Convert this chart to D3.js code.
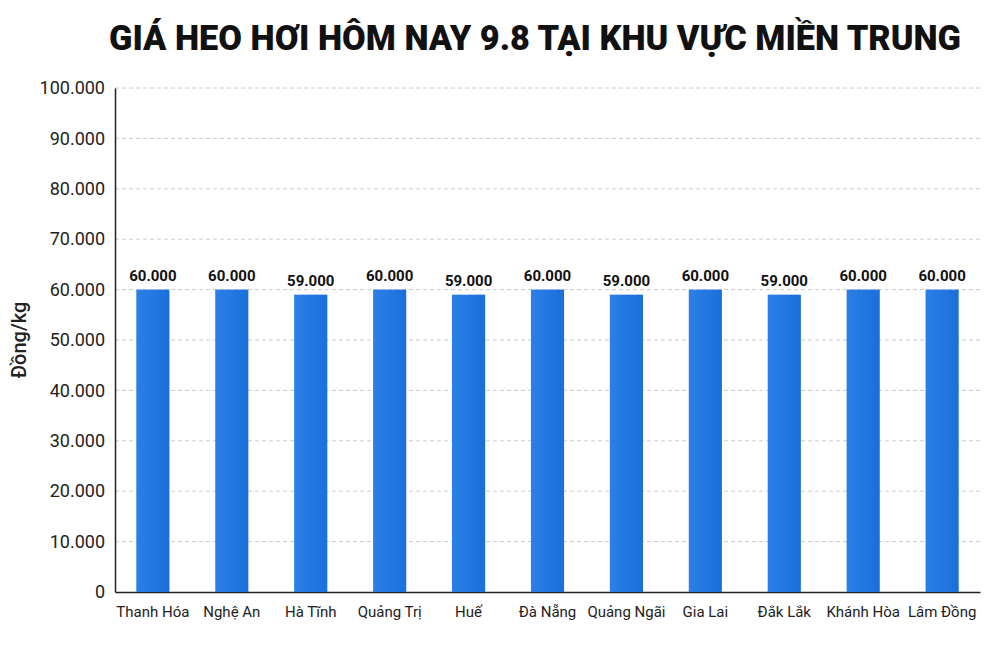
<!DOCTYPE html><html><head><meta charset="utf-8">
<script src="https://cdn.jsdelivr.net/npm/d3@7"></script>
<style>body{margin:0;background:#fff}</style></head><body>
<svg id="c" width="998" height="665"></svg>
<script>
const categories=["Thanh Hóa","Nghệ An","Hà Tĩnh","Quảng Trị","Huế","Đà Nẵng","Quảng Ngãi","Gia Lai","Đắk Lắk","Khánh Hòa","Lâm Đồng"];
const values=[60000,60000,59000,60000,59000,60000,59000,60000,59000,60000,60000];
const yTicks=[0,10000,20000,30000,40000,50000,60000,70000,80000,90000,100000];
const title="GIÁ HEO HƠI HÔM NAY 9.8 TẠI KHU VỰC MIỀN TRUNG";
const yTitle="Đồng/kg";
const svg=d3.select("#c");
const L=115,R=980,T=88,B=592;
const x=d3.scaleBand().domain(categories).range([L,R]).paddingInner(0.58).paddingOuter(0.27);
const y=d3.scaleLinear().domain([0,100000]).range([B,T]);
const fmt=v=>v===0?"0":d3.format(",")(v).replace(/,/g,".");
const defs=svg.append("defs");
const g=defs.append("linearGradient").attr("id","bg").attr("x1",0).attr("x2",1);
g.append("stop").attr("offset","0%").attr("stop-color","#2b7fe6");
g.append("stop").attr("offset","100%").attr("stop-color","#1a6fdc");
svg.append("text").attr("x",535).attr("y",50).attr("text-anchor","middle")
 .attr("font-family","Roboto").attr("font-weight",900).attr("font-size",35)
 .attr("textLength",852).attr("lengthAdjust","spacingAndGlyphs").attr("fill","#111").text(title);
svg.append("g").selectAll("line").data(yTicks.filter(d=>d>0)).join("line")
 .attr("x1",L).attr("x2",R).attr("y1",d=>y(d)).attr("y2",d=>y(d))
 .attr("stroke","#ccc").attr("stroke-dasharray","4,3");
const ya=svg.append("g").attr("transform",`translate(${L},0)`)
 .call(d3.axisLeft(y).tickValues(yTicks).tickFormat(fmt).tickSize(0).tickPadding(10));
ya.select(".domain").attr("stroke","#222").attr("stroke-width",1.5);
ya.selectAll("text").attr("font-family","Roboto").attr("font-size",18).attr("fill","#222");
const xa=svg.append("g").attr("transform",`translate(0,${B})`)
 .call(d3.axisBottom(x).tickSize(0).tickPadding(14));
xa.select(".domain").attr("stroke","#222").attr("stroke-width",1.5);
xa.selectAll("text").attr("font-family","Roboto").attr("font-size",15).attr("fill","#222");
svg.append("g").selectAll("rect").data(values).join("rect")
 .attr("x",(d,i)=>x(categories[i])).attr("width",x.bandwidth())
 .attr("y",d=>y(d)).attr("height",d=>B-y(d)).attr("fill","url(#bg)");
svg.append("g").selectAll("text").data(values).join("text")
 .attr("x",(d,i)=>x(categories[i])+x.bandwidth()/2).attr("y",d=>y(d)-9)
 .attr("text-anchor","middle").attr("font-family","Roboto").attr("font-weight",700)
 .attr("font-size",15).attr("fill","#111").text(fmt);
svg.append("text").attr("transform","translate(26,340) rotate(-90)").attr("text-anchor","middle")
 .attr("font-family","Roboto").attr("font-weight",500).attr("font-size",20).attr("fill","#222").text(yTitle);
</script></body></html>
